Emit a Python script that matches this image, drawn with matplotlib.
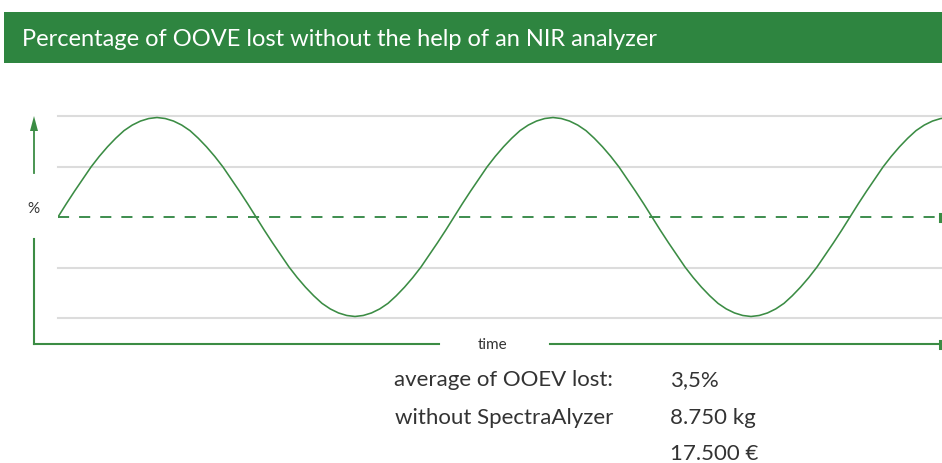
import matplotlib
matplotlib.use('Agg')
from matplotlib import pyplot as plt
from matplotlib.lines import Line2D
from matplotlib.patches import Rectangle, Polygon

plt.rcParams['font.family'] = ['Lato', 'DejaVu Sans']
plt.rcParams['lines.scale_dashes'] = False

title = 'Percentage of OOVE lost without the help of an NIR analyzer'
y_label = '%'
x_label = 'time'
summary_labels = ['average of OOEV lost:', 'without SpectraAlyzer']
summary_values = ['3,5%', '8.750 kg', '17.500 €']

# deviation from the average, read every 1/48 of a period
loss = [
    0, 0.26, 0.51, 0.75, 0.99, 1.20, 1.39, 1.56, 1.71, 1.82, 1.90, 1.95,
    1.97, 1.95, 1.90, 1.82, 1.71, 1.56, 1.39, 1.20, 0.99, 0.75, 0.51, 0.26,
    0, -0.26, -0.51, -0.75, -0.99, -1.20, -1.39, -1.56, -1.71, -1.82, -1.90, -1.95,
    -1.97, -1.95, -1.90, -1.82, -1.71, -1.56, -1.39, -1.20, -0.99, -0.75, -0.51, -0.26,
    0, 0.26, 0.51, 0.75, 0.99, 1.20, 1.39, 1.56, 1.71, 1.82, 1.90, 1.95,
    1.97, 1.95, 1.90, 1.82, 1.71, 1.56, 1.39, 1.20, 0.99, 0.75, 0.51, 0.26,
    0, -0.26, -0.51, -0.75, -0.99, -1.20, -1.39, -1.56, -1.71, -1.82, -1.90, -1.95,
    -1.97, -1.95, -1.90, -1.82, -1.71, -1.56, -1.39, -1.20, -0.99, -0.75, -0.51, -0.26,
    0, 0.26, 0.51, 0.75, 0.99, 1.20, 1.39, 1.56, 1.71, 1.82, 1.90, 1.95,
    1.97,
]
steps = list(range(len(loss)))
grid_levels = [-2, -1, 1, 2]
average = 0

GREEN = '#2e8540'
LINE = '#3b8c44'
GRID = '#dcdcdc'
TEXT = '#333333'

W, H = 942, 464
STEP_PX = 8.25
fig = plt.figure(figsize=(W / 100, H / 100), dpi=100)

# overlay in pixel coords for the banner and the hand-drawn axes
deco = fig.add_axes([0, 0, 1, 1])
deco.set_xlim(0, W)
deco.set_ylim(H, 0)
deco.axis('off')

deco.add_patch(Rectangle((4, 13), W - 4, 51, color=GREEN, lw=0))
deco.text(22, 39.5, title, color='white', fontsize=17,
          va='center', ha='left')

# plot area
ax = fig.add_axes([58 / W, 1 - 319 / H, 1 - 58 / W, 202 / H])
ax.set_xlim(0, 884 / STEP_PX)
ax.set_ylim(-2, 2)
ax.axis('off')
for g in grid_levels:
    ax.axhline(g, color=GRID, lw=1.5, zorder=1, clip_on=False)
ax.plot([0, 882 / STEP_PX], [average, average], color=GREEN, lw=1.3,
        dashes=(8, 7.2), zorder=2, clip_on=False)
ax.plot(steps, loss, color=LINE, lw=1.15, zorder=3, clip_on=True)

# y axis arrow with gap for the label
deco.add_line(Line2D([34, 34], [132, 174], color=LINE, lw=1.3))
deco.add_line(Line2D([34, 34], [240, 345], color=LINE, lw=1.5))
deco.add_patch(Polygon([[34, 117], [30, 132], [38, 132]], closed=True,
                       color=LINE, lw=0))
deco.text(33, 209, y_label, color=TEXT, fontsize=11, ha='center', va='center')

# x axis with gap for the label
deco.add_line(Line2D([34, 439], [345, 345], color=LINE, lw=1.5))
deco.add_line(Line2D([550, 940], [345, 345], color=LINE, lw=1.5))
deco.text(493, 345, x_label, color=TEXT, fontsize=11, ha='center', va='center')

# end marks
for y in (218, 345):
    deco.add_line(Line2D([940, 940], [y - 3.5, y + 3.5], color=LINE, lw=2.2))

# summary block
rows = [380, 418, 454]
for lab, y in zip(summary_labels, rows):
    deco.text(613, y, lab, color=TEXT, fontsize=16, ha='right', va='center')
for val, y in zip(summary_values, rows):
    deco.text(670, y, val, color=TEXT, fontsize=16, ha='left', va='center')

fig.savefig('out.png', dpi=100)
